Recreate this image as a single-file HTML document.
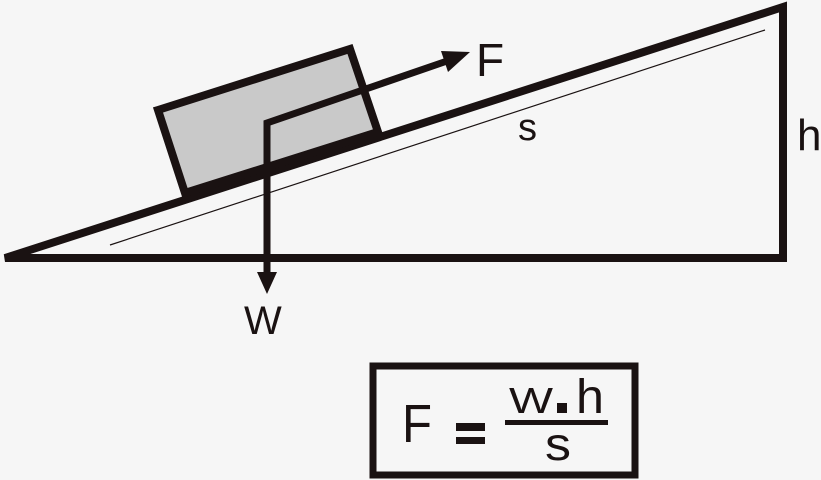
<!DOCTYPE html>
<html><head><style>
html,body{margin:0;padding:0;background:#f6f6f6;}
svg{display:block}
text{font-family:"Liberation Sans",sans-serif;fill:#1a1212}
</style></head><body>
<svg width="821" height="480" viewBox="0 0 821 480">
<rect width="821" height="480" fill="#f6f6f6"/>
<g stroke="#1a1212" fill="none" stroke-linejoin="miter">
<polygon points="5,258 783,7 783,258" stroke-width="8"/>
<line x1="110" y1="245" x2="765" y2="30" stroke-width="1.2"/>
<polygon points="158,110 350,49 378,132 185,193" fill="#c9c9c9" stroke-width="8"/>
<polyline points="267,280 267,123 450,60" stroke-width="7"/>
</g>
<polygon points="470,52 441,51 448,72" fill="#1a1212"/>
<polygon points="267,294 257,272 277,272" fill="#1a1212"/>
<text x="476" y="76" font-size="46">F</text>
<text x="518" y="140" font-size="38">s</text>
<text x="797" y="150" font-size="44">h</text>
<text x="244" y="334" font-size="40">W</text>
<rect x="373" y="366" width="262" height="109" fill="none" stroke="#1a1212" stroke-width="7"/>
<text x="402" y="442" font-size="54" textLength="30" lengthAdjust="spacingAndGlyphs">F</text>
<rect x="456" y="423" width="29" height="8" fill="#1a1212"/>
<rect x="456" y="437" width="29" height="7" fill="#1a1212"/>
<text x="509" y="413" font-size="36" textLength="44" lengthAdjust="spacingAndGlyphs">W</text>
<rect x="557" y="403" width="10" height="10" fill="#1a1212"/>
<text x="576" y="413" font-size="48" textLength="28" lengthAdjust="spacingAndGlyphs">h</text>
<rect x="505" y="420" width="103" height="5" fill="#1a1212"/>
<text x="545" y="460" font-size="46" textLength="26" lengthAdjust="spacingAndGlyphs">s</text>
</svg>
</body></html>
